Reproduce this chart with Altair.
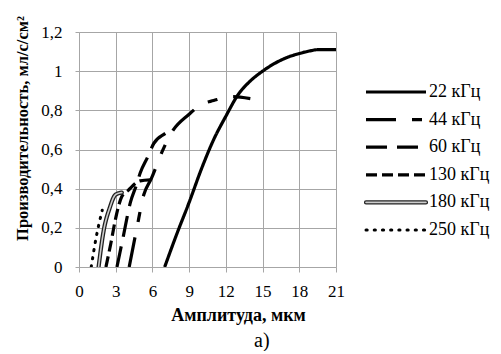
import altair as alt
import pandas as pd

# ---- data ----
series = ["22 кГц", "44 кГц", "60 кГц", "130 кГц", "180 кГц", "250 кГц"]

amp_22 = [7, 8, 9, 10, 11, 12, 13, 14, 15, 16, 17, 18, 19, 19.5, 21]
prod_22 = [0, 0.17, 0.33, 0.5, 0.65, 0.77, 0.88, 0.95, 1.0, 1.04, 1.07, 1.09, 1.105, 1.11, 1.11]

amp_44 = [4.1, 4.7, 5.3, 5.9, 6.8, 7.5, 9.0, 10.0, 11.0, 12.5, 14.0]
prod_44 = [0, 0.19, 0.37, 0.45, 0.59, 0.68, 0.78, 0.83, 0.85, 0.87, 0.86]

amp_60 = [3.1, 3.6, 4.2, 4.7, 5.0, 5.6, 6.1, 7.0, 7.5]
prod_60 = [0, 0.15, 0.33, 0.42, 0.48, 0.56, 0.63, 0.68, 0.70]

amp_130 = [2.2, 2.6, 3.0, 3.5, 4.0, 5.0, 5.9]
prod_130 = [0, 0.12, 0.25, 0.36, 0.39, 0.44, 0.445]

amp_180 = [1.6, 2.0, 2.5, 3.0, 3.5]
prod_180 = [0, 0.18, 0.30, 0.37, 0.38]

amp_250 = [1.0, 1.4, 1.9]
prod_250 = [0, 0.15, 0.29]

x_ticks = [0, 3, 6, 9, 12, 15, 18, 21]
y_ticks = [0, 0.2, 0.4, 0.6, 0.8, 1.0, 1.2]

x_title = "Амплитуда, мкм"
y_title = "Производительность, мл/с/см²"
panel_label = "а)"

FONT = "Liberation Serif"

all_x = [amp_22, amp_44, amp_60, amp_130, amp_180, amp_250]
all_y = [prod_22, prod_44, prod_60, prod_130, prod_180, prod_250]

frames = []
for name, xs, ys in zip(series, all_x, all_y):
    frames.append(pd.DataFrame({"series": name, "amp": xs, "prod": ys, "ord": list(range(len(xs)))}))
df = pd.concat(frames, ignore_index=True)

# line styles per series: list of (dash, width, color, cap)
styles = {
    "22 кГц": [([1, 0], 3.2, "black", "butt")],
    "44 кГц": [([30, 16, 10, 16], 3.2, "black", "butt")],
    "60 кГц": [([21, 10], 3.2, "black", "butt")],
    "130 кГц": [([11, 5], 3.2, "black", "butt")],
    "180 кГц": [([1, 0], 4.2, "#222222", "round"), ([1, 0], 1.6, "#cccccc", "round")],
    "250 кГц": [([1.2, 7], 3.0, "black", "round")],
}

xscale = alt.Scale(domain=[0, 21], nice=False, zero=False)
yscale = alt.Scale(domain=[0, 1.2], nice=False)

xaxis = alt.Axis(values=x_ticks, title=x_title, grid=True, gridColor="#a6a6a6",
                 domainColor="#a6a6a6", tickColor="#a6a6a6", tickSize=5,
                 labelFont=FONT, labelFontSize=17, labelColor="black", labelPadding=11,
                 labelFlush=False,
                 titleFont=FONT, titleFontSize=18, titleFontWeight="bold", titleColor="black",
                 titlePadding=7, titleX=159, titleAnchor="start", titleAlign="center")
yaxis = alt.Axis(values=y_ticks, title=y_title, grid=True, gridColor="#a6a6a6",
                 domainColor="#a6a6a6", tickColor="#a6a6a6", tickSize=4,
                 labelFont=FONT, labelFontSize=17, labelColor="black", labelPadding=13,
                 labelFlush=False,
                 labelExpr="replace(format(datum.value, '.1~f'), '.', ',')",
                 titleFont=FONT, titleFontSize=16.5, titleFontWeight="bold", titleColor="black",
                 titlePadding=10, titleY=96, titleAnchor="start", titleAlign="center")

layers = []
for name in series:
    for dash, w, col, cap in styles[name]:
        layers.append(
            alt.Chart(df).transform_filter(alt.datum.series == name)
            .mark_line(color=col, strokeWidth=w, strokeDash=dash, strokeCap=cap,
                       interpolate="monotone", clip=True)
            .encode(x=alt.X("amp:Q", scale=xscale, axis=xaxis),
                    y=alt.Y("prod:Q", scale=yscale, axis=yaxis),
                    order="ord:Q")
        )
main = alt.layer(*layers).properties(width=257, height=235)

# ---- legend panel ----
leg = pd.DataFrame({
    "series": series * 2,
    "idx": list(range(len(series))) * 2,
    "lx": [0] * len(series) + [1] * len(series),
})
lx_scale = alt.Scale(domain=[0, 125 / 60], nice=False, zero=False)
ly_scale = alt.Scale(domain=[-60 / 27.6, (235 - 60) / 27.6], nice=False, zero=False, reverse=True)

leg_layers = []
for name in series:
    for dash, w, col, cap in styles[name]:
        leg_layers.append(
            alt.Chart(leg).transform_filter(alt.datum.series == name)
            .mark_line(color=col, strokeWidth=w, strokeDash=dash, strokeCap=cap)
            .encode(x=alt.X("lx:Q", scale=lx_scale, axis=None),
                    y=alt.Y("idx:Q", scale=ly_scale, axis=None))
        )
leg_layers.append(
    alt.Chart(leg).transform_filter(alt.datum.lx == 1)
    .mark_text(align="left", baseline="middle", dx=3, font=FONT, fontSize=18, color="black")
    .encode(x=alt.X("lx:Q", scale=lx_scale, axis=None),
            y=alt.Y("idx:Q", scale=ly_scale, axis=None),
            text="series:N")
)
legend = alt.layer(*leg_layers).properties(width=125, height=235)

chart = (
    alt.hconcat(main, legend, spacing=12)
    .properties(title=alt.TitleParams(panel_label, orient="bottom", anchor="middle",
                                      font=FONT, fontSize=20, fontWeight="normal",
                                      color="black", offset=7, dx=9))
    .configure(padding={"left": 6, "top": 7, "right": 0, "bottom": 0}, font=FONT,
               view=alt.ViewConfig(stroke="transparent", strokeWidth=0))
)

chart.save("out.html", embed_options={"renderer": "svg", "actions": False})
